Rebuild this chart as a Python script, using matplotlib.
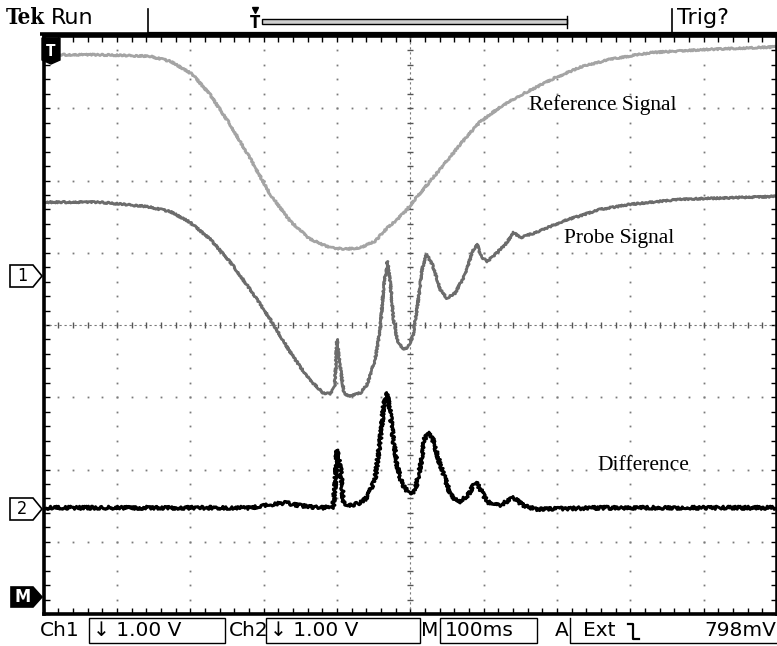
import numpy as np
import matplotlib
matplotlib.use("Agg")
import matplotlib.pyplot as plt
from matplotlib.patches import Polygon, Rectangle

# time in ms (100 ms/div), level in screen divisions from centre
ref_t = [0, 77, 145, 173, 203, 227, 254, 282, 309, 336, 363, 391, 411, 432, 452,
         469, 480, 493, 509, 541, 568, 595, 623, 650, 695, 732, 773, 828, 896, 1000]
ref_v = [3.74, 3.74, 3.72, 3.65, 3.47, 3.19, 2.78, 2.30, 1.81, 1.44, 1.19, 1.07, 1.05, 1.07, 1.16,
         1.35, 1.44, 1.57, 1.77, 2.16, 2.50, 2.81, 3.02, 3.18, 3.41, 3.57, 3.68, 3.77, 3.81, 3.85]

probe_t = [0, 77, 141, 173, 200, 227, 254, 282, 309, 336, 350, 363, 381, 391, 397, 400, 405, 410,
           418, 432, 441, 452, 459, 464, 469, 473, 477, 482, 490, 497, 504, 511, 516, 522, 530,
           541, 550, 561, 575, 585, 591, 597, 605, 616, 630, 641, 650, 671, 709, 759, 800, 868, 1000]
probe_v = [1.70, 1.70, 1.64, 1.57, 1.42, 1.19, 0.88, 0.49, 0.08, -0.37, -0.58, -0.76, -0.94, -0.95,
           -0.86, -0.20, -0.62, -0.96, -0.98, -0.94, -0.83, -0.48, -0.06, 0.56, 0.88, 0.56, 0.08,
           -0.20, -0.34, -0.31, -0.13, 0.35, 0.77, 0.98, 0.84, 0.49, 0.37, 0.44, 0.70, 1.02, 1.12,
           0.94, 0.88, 0.98, 1.12, 1.28, 1.21, 1.28, 1.44, 1.60, 1.67, 1.74, 1.78]

diff_t = [0, 145, 282, 309, 329, 350, 377, 395, 398, 400, 405, 409, 418, 432, 441, 452, 459, 464,
          469, 473, 477, 482, 489, 500, 507, 514, 519, 525, 531, 541, 555, 566, 579, 589, 596,
          605, 623, 641, 653, 671, 759, 1000]
diff_v = [-2.53, -2.53, -2.53, -2.49, -2.46, -2.50, -2.53, -2.52, -2.14, -1.73, -2.00, -2.46,
          -2.50, -2.46, -2.39, -2.14, -1.59, -1.10, -0.94, -1.24, -1.59, -1.94, -2.21, -2.35,
          -2.28, -1.94, -1.59, -1.48, -1.59, -1.94, -2.35, -2.46, -2.35, -2.17, -2.28, -2.45,
          -2.49, -2.39, -2.49, -2.55, -2.53, -2.53]

labels = ["Reference Signal", "Probe Signal", "Difference"]

W, H = 777, 646
fig = plt.figure(figsize=(W / 100, H / 100), dpi=100)
fig.patch.set_facecolor("white")

x0, x1, y0, y1 = 43.5, 777, 36, 614
ax = fig.add_axes([x0 / W, (H - y1) / H, (x1 - x0) / W, (y1 - y0) / H])
ax.set_xlim(0, 1000)
ax.set_ylim(-4, 4)

# graticule dots
gc = "#7a7a7a"
ys = np.arange(-4, 4.01, 0.2)
xs = np.arange(0, 1000.1, 20)
for k in range(1, 10):
    if k == 5:
        continue
    ax.plot([k * 100] * len(ys), ys, ls="none", marker="s", ms=1.3, color=gc, mew=0)
for k in range(-3, 4):
    if k == 0:
        continue
    ax.plot(xs, [k] * len(xs), ls="none", marker="s", ms=1.3, color=gc, mew=0)
# centre lines
ax.plot([500, 500], [-4, 4], color=gc, lw=0.8, ls=(0, (2, 2.5)))
ax.plot([0, 1000], [0, 0], color=gc, lw=0.8, ls=(0, (2, 2.5)))
ax.plot([500] * len(ys), ys, ls="none", marker="_", ms=5, color="#555555", mew=1)
ax.plot(xs, [0] * len(xs), ls="none", marker="|", ms=5, color="#555555", mew=1)

# traces
l1, = ax.plot(ref_t, ref_v, color="#a4a4a4", lw=2.0)
l2, = ax.plot(probe_t, probe_v, color="#6c6c6c", lw=2.0)
l3, = ax.plot(diff_t, diff_v, color="black", lw=2.2)
l1.set_sketch_params(scale=0.8, length=2, randomness=3)
l2.set_sketch_params(scale=0.8, length=2, randomness=3)
l3.set_sketch_params(scale=1.6, length=1.5, randomness=4)

# border ticks
ax.set_xticks(np.arange(0, 1001, 100))
ax.set_xticks(xs, minor=True)
ax.set_yticks(np.arange(-4, 4.1, 1))
ax.set_yticks(ys, minor=True)
ax.tick_params(which="both", direction="in", length=4, width=1, color="black",
               top=True, right=True, labelbottom=False, labelleft=False)
for s in ax.spines.values():
    s.set_linewidth(2.6)

ov = fig.add_axes([0, 0, 1, 1], zorder=5)
ov.set_xlim(0, W)
ov.set_ylim(H, 0)
ov.axis("off")
ov.patch.set_alpha(0)

serif = "Liberation Serif"
ov.text(529, 105, labels[0], family=serif, fontsize=15.5, va="center")
ov.text(564, 239, labels[1], family=serif, fontsize=15.5, va="center")
ov.text(597, 466, labels[2], family=serif, fontsize=15.5, va="center")

# top status bar
sans = dict(family="DejaVu Sans")
ov.text(6, 18, "Tek", fontsize=16, fontweight="bold", va="center", family="DejaVu Serif",
        fontstretch="condensed")
ov.text(51, 18, "Run", fontsize=16, va="center", **sans)
ov.text(677, 18, "Trig?", fontsize=16, va="center", **sans)
ov.plot([40, 777], [34, 34], color="black", lw=2.6, solid_capstyle="butt")
ov.plot([148, 777], [32, 32], color="black", lw=0.9)
for xv in (148, 672):
    ov.plot([xv, xv], [9, 33], color="black", lw=1.2)
ov.add_patch(Rectangle((262, 19), 305, 5, facecolor="#cfcfcf", edgecolor="black", lw=1))
ov.plot([567, 567], [16, 28], color="black", lw=1)
ov.plot([255], [10], marker="v", ms=5, color="black")
ov.text(255, 23, "T", fontsize=12, fontweight="bold", ha="center", va="center",
        family="DejaVu Sans", fontstretch="condensed")

# left markers
def tag(yc, txt, filled=False, x_l=10, x_r=33, tip=42, h=11):
    pts = [(x_l, yc - h), (x_r, yc - h), (tip, yc), (x_r, yc + h), (x_l, yc + h)]
    ov.add_patch(Polygon(pts, closed=True, facecolor="black" if filled else "white",
                         edgecolor="black", lw=1.2, zorder=6))
    ov.text((x_l + x_r) / 2 + 1, yc, txt, fontsize=13, ha="center", va="center",
            color="white" if filled else "black", zorder=7, fontweight="bold" if filled else "normal",
            family="DejaVu Sans", fontstretch="condensed")

tag(276, "1")
tag(509, "2")
tag(597, "M", filled=True, x_l=11, x_r=33, tip=42, h=10)
ov.add_patch(Polygon([(42, 38), (60, 38), (60, 60), (51, 64), (42, 60)], closed=True,
                     facecolor="black", edgecolor="black", zorder=6))
ov.text(51, 51, "T", fontsize=11, fontweight="bold", color="white", ha="center", va="center",
        zorder=7, family="DejaVu Sans", fontstretch="condensed")

# bottom readout
by = 631
fs = 14.5
ov.text(40, by, "Ch1", fontsize=fs, va="center", **sans)
ov.add_patch(Rectangle((89, 618), 136, 25, facecolor="none", edgecolor="black", lw=1))
ov.text(93, by, "\u2193 1.00 V", fontsize=fs, va="center", **sans)
ov.text(229, by, "Ch2", fontsize=fs, va="center", **sans)
ov.add_patch(Rectangle((266, 618), 154, 25, facecolor="none", edgecolor="black", lw=1))
ov.text(270, by, "\u2193 1.00 V", fontsize=fs, va="center", **sans)
ov.text(421, by, "M", fontsize=fs, va="center", **sans)
ov.add_patch(Rectangle((440, 618), 97, 25, facecolor="none", edgecolor="black", lw=1))
ov.text(445, by, "100ms", fontsize=fs, va="center", **sans)
ov.text(555, by, "A", fontsize=fs, va="center", **sans)
ov.plot([570, 570, 777], [618, 643, 643], color="black", lw=1)
ov.text(583, by, "Ext", fontsize=fs, va="center", **sans)
ov.plot([628, 633, 633, 639], [624, 624, 639, 639], color="black", lw=1.6)
ov.text(776, by, "798mV", fontsize=fs, va="center", ha="right", **sans)

fig.savefig("out.png", dpi=100, facecolor="white")
